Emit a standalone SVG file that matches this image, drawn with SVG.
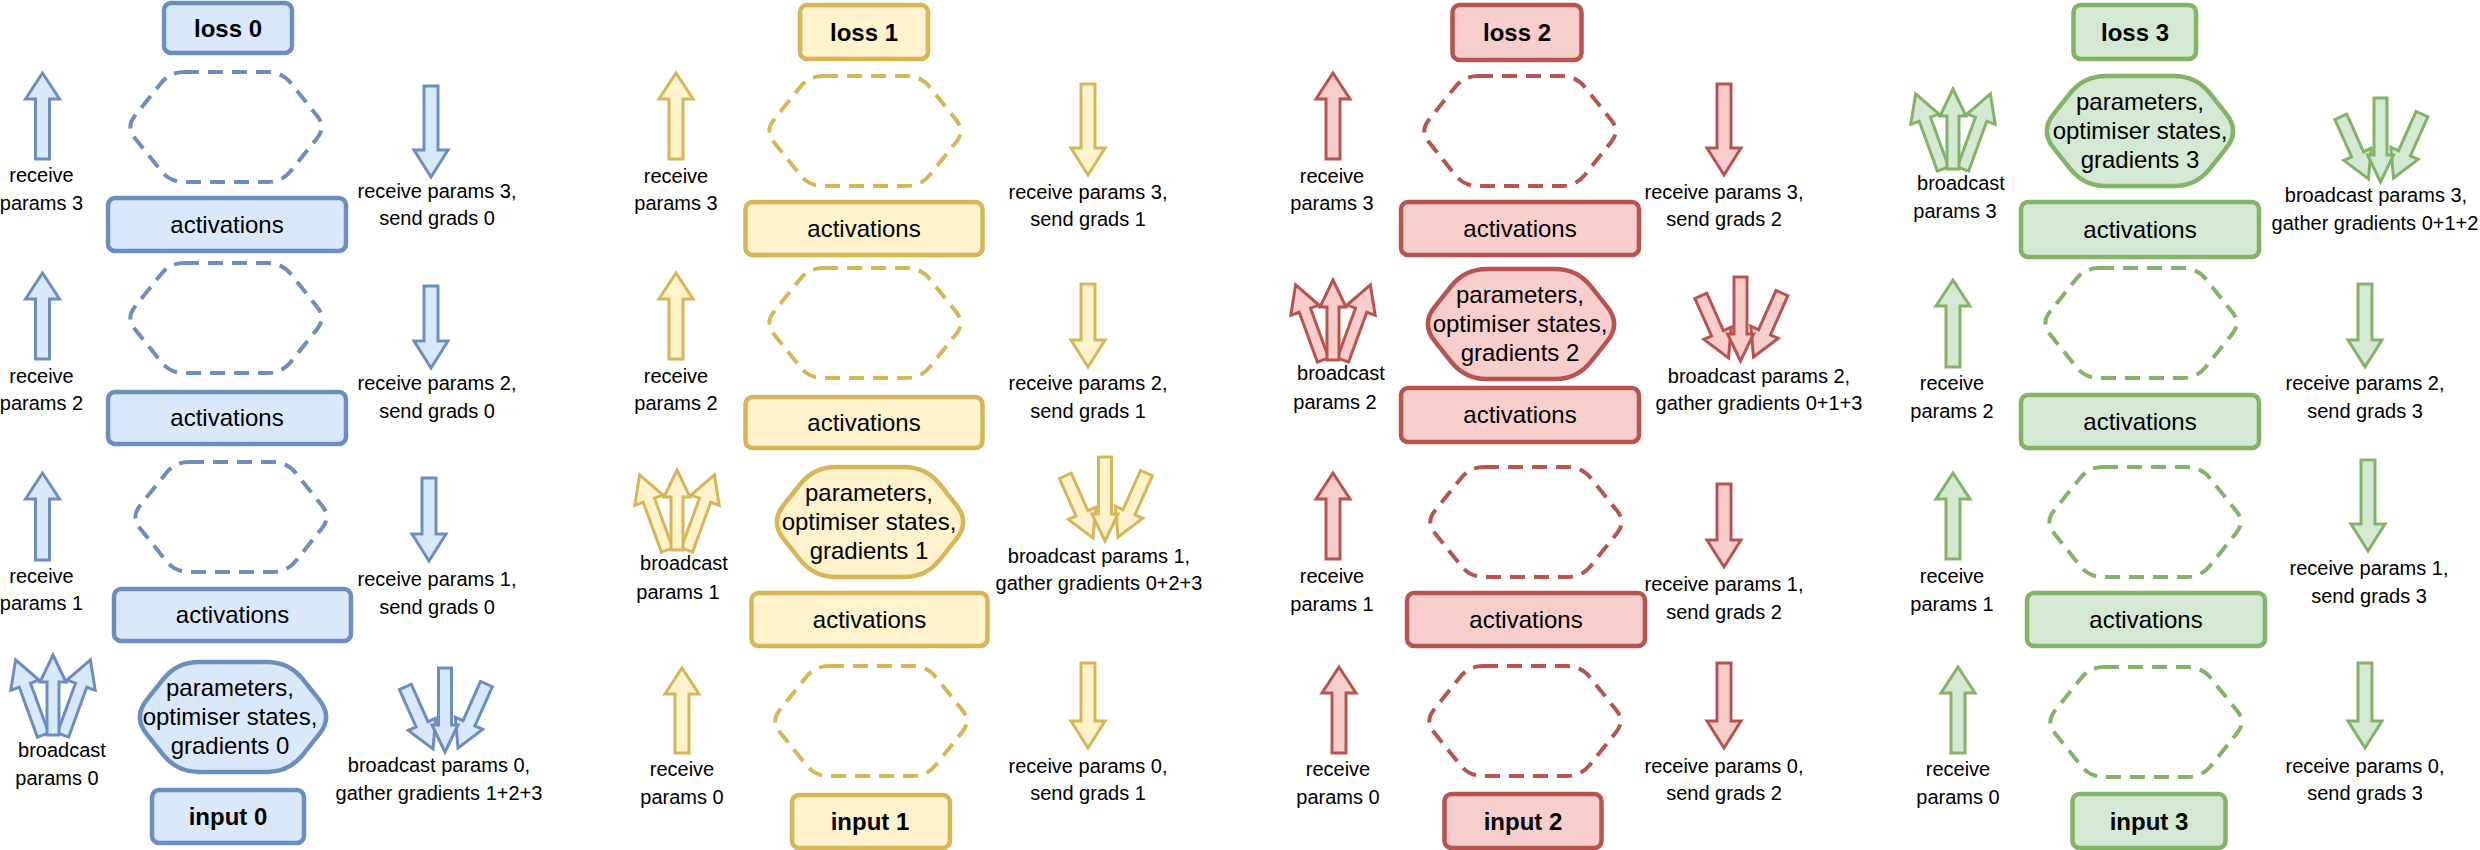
<svg xmlns="http://www.w3.org/2000/svg" xmlns:xlink="http://www.w3.org/1999/xlink" width="2480" height="850" viewBox="0 0 2480 850">
<style>
.b{fill:#dae8fc;stroke:#6c8ebf}
.y{fill:#fff2cc;stroke:#d6b656}
.r{fill:#f8cecc;stroke:#b85450}
.g{fill:#d5e8d4;stroke:#82b366}
.box{stroke-width:4.5}
.ar{stroke-width:3;stroke-linejoin:miter}
.dh{fill:none;stroke-width:4;stroke-dasharray:15 9}
.ph{stroke-width:4.5}
.t{font-family:"Liberation Sans",Arial,Helvetica,sans-serif;font-size:20px;text-anchor:middle;fill:#000;stroke:none}
.m{font-size:24px}
.bd{font-weight:bold}
</style>
<defs>
<path id="hexD" d="M58,0 L142,0 Q156,0 164.75,10.93 L191.25,44.07 Q200,55 191.25,65.93 L164.75,99.07 Q156,110 142,110 L58,110 Q44,110 35.25,99.07 L8.75,65.93 Q0,55 8.75,44.07 L35.25,10.93 Q44,0 58,0 Z"/>
<path id="hexP" d="M66,0 L134,0 Q156,0 169.75,17.18 L186.25,37.82 Q200,55 186.25,72.18 L169.75,92.82 Q156,110 134,110 L66,110 Q44,110 30.25,92.82 L13.75,72.18 Q0,55 13.75,37.82 L30.25,17.18 Q44,0 66,0 Z"/>
<g id="fanUp">
<polygon transform="translate(-10,80) rotate(-20)" points="0,-80 15,-53 6,-53 6,0 -6,0 -6,-53 -15,-53"/>
<polygon transform="translate(10,80) rotate(20)" points="0,-80 15,-53 6,-53 6,0 -6,0 -6,-53 -15,-53"/>
<polygon points="0,0 13,27 6,27 6,80 -6,80 -6,27 -13,27"/>
</g>
<g id="fanDown">
<polygon transform="translate(-12,-3) rotate(-24)" points="0,0 15,-27 6.5,-27 6.5,-68 -6.5,-68 -6.5,-27 -15,-27"/>
<polygon transform="translate(13,-4) rotate(24)" points="0,0 15,-27 6.5,-27 6.5,-70 -6.5,-70 -6.5,-27 -15,-27"/>
<polygon points="0,0 13,-27 6.5,-27 6.5,-84 -6.5,-84 -6.5,-27 -13,-27"/>
</g>
</defs>
<rect width="2480" height="850" fill="#ffffff"/>

<!-- ============ Column 0 (blue) ============ -->
<g id="col0">
<g id="loss0"><rect class="b box" x="164" y="3" width="128" height="50" rx="7"/><text class="t m bd" x="228" y="37">loss 0</text></g>
<g id="hex0_1"><use href="#hexD" x="126" y="72" class="dh b"/></g>
<g id="act0_1"><rect class="b box" x="108" y="198" width="238" height="53" rx="7"/><text class="t m" x="227" y="233">activations</text></g>
<g id="hex0_2"><use href="#hexD" x="126" y="263" class="dh b"/></g>
<g id="act0_2"><rect class="b box" x="108" y="392" width="238" height="52" rx="7"/><text class="t m" x="227" y="426">activations</text></g>
<g id="hex0_3"><use href="#hexD" x="131" y="462" class="dh b"/></g>
<g id="act0_3"><rect class="b box" x="114" y="589" width="237" height="52" rx="7"/><text class="t m" x="232.5" y="623">activations</text></g>
<g id="params0"><use href="#hexP" x="133" y="662" class="ph b"/><text class="t m" x="230" y="696">parameters,</text><text class="t m" x="230" y="725">optimiser states,</text><text class="t m" x="230" y="754">gradients 0</text></g>
<g id="input0"><rect class="b box" x="152" y="790" width="152" height="53" rx="7"/><text class="t m bd" x="228" y="825">input 0</text></g>

<g id="up0_3"><polygon class="b ar" points="42.5,73 59.5,99 49.5,99 49.5,159 35.5,159 35.5,99 25.5,99"/><text class="t" x="41.5" y="182">receive</text><text class="t" x="41.5" y="210">params 3</text></g>
<g id="up0_2"><polygon class="b ar" points="42.5,273 59.5,299 49.5,299 49.5,359 35.5,359 35.5,299 25.5,299"/><text class="t" x="41.5" y="383">receive</text><text class="t" x="41.5" y="410">params 2</text></g>
<g id="up0_1"><polygon class="b ar" points="42.5,473 59.5,499 49.5,499 49.5,560 35.5,560 35.5,499 25.5,499"/><text class="t" x="41.5" y="583">receive</text><text class="t" x="41.5" y="610">params 1</text></g>
<g id="bcast0"><use href="#fanUp" x="53" y="655" class="b ar"/><text class="t" x="62" y="757">broadcast</text><text class="t" x="57" y="785">params 0</text></g>

<g id="down0_3"><polygon class="b ar" points="424,86 438,86 438,150 448,150 431,177 414,150 424,150"/><text class="t" x="437" y="198">receive params 3,</text><text class="t" x="437" y="225">send grads 0</text></g>
<g id="down0_2"><polygon class="b ar" points="424,286 438,286 438,341 448,341 431,368 414,341 424,341"/><text class="t" x="437" y="390">receive params 2,</text><text class="t" x="437" y="418">send grads 0</text></g>
<g id="down0_1"><polygon class="b ar" points="422,478 436,478 436,534 446,534 429,561 412,534 422,534"/><text class="t" x="437" y="586">receive params 1,</text><text class="t" x="437" y="614">send grads 0</text></g>
<g id="gather0"><use href="#fanDown" x="445" y="752" class="b ar"/><text class="t" x="439" y="772">broadcast params 0,</text><text class="t" x="439" y="800">gather gradients 1+2+3</text></g>
</g>

<!-- ============ Column 1 (yellow) ============ -->
<g id="col1">
<g id="loss1"><rect class="y box" x="800" y="5" width="128" height="54" rx="7"/><text class="t m bd" x="864" y="41">loss 1</text></g>
<g id="hex1_1"><use href="#hexD" x="765" y="76" class="dh y"/></g>
<g id="act1_1"><rect class="y box" x="745.5" y="202" width="237" height="53" rx="7"/><text class="t m" x="864" y="237">activations</text></g>
<g id="hex1_2"><use href="#hexD" x="765" y="268" class="dh y"/></g>
<g id="act1_2"><rect class="y box" x="745.5" y="397" width="237" height="51" rx="7"/><text class="t m" x="864" y="431">activations</text></g>
<g id="params1"><use href="#hexP" x="770" y="467" class="ph y"/><text class="t m" x="869" y="501">parameters,</text><text class="t m" x="869" y="530">optimiser states,</text><text class="t m" x="869" y="559">gradients 1</text></g>
<g id="act1_3"><rect class="y box" x="751.5" y="593" width="236" height="53" rx="7"/><text class="t m" x="869.5" y="628">activations</text></g>
<g id="hex1_4"><use href="#hexD" x="771" y="666" class="dh y"/></g>
<g id="input1"><rect class="y box" x="792" y="795" width="158" height="53" rx="7"/><text class="t m bd" x="870" y="830">input 1</text></g>

<g id="up1_3"><polygon class="y ar" points="676,73 693,99 683,99 683,159 669,159 669,99 659,99"/><text class="t" x="676" y="183">receive</text><text class="t" x="676" y="210">params 3</text></g>
<g id="up1_2"><polygon class="y ar" points="676,273 693,299 683,299 683,359 669,359 669,299 659,299"/><text class="t" x="676" y="383">receive</text><text class="t" x="676" y="410">params 2</text></g>
<g id="bcast1"><use href="#fanUp" x="677" y="470" class="y ar"/><text class="t" x="684" y="570">broadcast</text><text class="t" x="678" y="599">params 1</text></g>
<g id="up1_0"><polygon class="y ar" points="682,668 699,694 689,694 689,753 675,753 675,694 665,694"/><text class="t" x="682" y="776">receive</text><text class="t" x="682" y="804">params 0</text></g>

<g id="down1_3"><polygon class="y ar" points="1081,84 1095,84 1095,148 1105,148 1088,175 1071,148 1081,148"/><text class="t" x="1088" y="199">receive params 3,</text><text class="t" x="1088" y="226">send grads 1</text></g>
<g id="down1_2"><polygon class="y ar" points="1081,284 1095,284 1095,340 1105,340 1088,367 1071,340 1081,340"/><text class="t" x="1088" y="390">receive params 2,</text><text class="t" x="1088" y="418">send grads 1</text></g>
<g id="gather1"><use href="#fanDown" x="1105" y="541" class="y ar"/><text class="t" x="1099" y="563">broadcast params 1,</text><text class="t" x="1099" y="590">gather gradients 0+2+3</text></g>
<g id="down1_0"><polygon class="y ar" points="1081,663 1095,663 1095,721 1105,721 1088,748 1071,721 1081,721"/><text class="t" x="1088" y="773">receive params 0,</text><text class="t" x="1088" y="800">send grads 1</text></g>
</g>

<!-- ============ Column 2 (red) ============ -->
<g id="col2">
<g id="loss2"><rect class="r box" x="1452.5" y="5" width="129" height="55" rx="7"/><text class="t m bd" x="1517" y="41">loss 2</text></g>
<g id="hex2_1"><use href="#hexD" x="1420" y="76" class="dh r"/></g>
<g id="act2_1"><rect class="r box" x="1401" y="202" width="238" height="53" rx="7"/><text class="t m" x="1520" y="237">activations</text></g>
<g id="params2"><use href="#hexP" x="1421" y="269" class="ph r"/><text class="t m" x="1520" y="303">parameters,</text><text class="t m" x="1520" y="332">optimiser states,</text><text class="t m" x="1520" y="361">gradients 2</text></g>
<g id="act2_2"><rect class="r box" x="1401" y="388" width="238" height="54" rx="7"/><text class="t m" x="1520" y="423">activations</text></g>
<g id="hex2_3"><use href="#hexD" x="1426" y="467" class="dh r"/></g>
<g id="act2_3"><rect class="r box" x="1407" y="593" width="238" height="53" rx="7"/><text class="t m" x="1526" y="628">activations</text></g>
<g id="hex2_4"><use href="#hexD" x="1425" y="666" class="dh r"/></g>
<g id="input2"><rect class="r box" x="1444.5" y="794" width="157" height="54" rx="7"/><text class="t m bd" x="1523" y="830">input 2</text></g>

<g id="up2_3"><polygon class="r ar" points="1333,73 1350,99 1340,99 1340,159 1326,159 1326,99 1316,99"/><text class="t" x="1332" y="183">receive</text><text class="t" x="1332" y="210">params 3</text></g>
<g id="bcast2"><use href="#fanUp" x="1333" y="280" class="r ar"/><text class="t" x="1341" y="380">broadcast</text><text class="t" x="1335" y="409">params 2</text></g>
<g id="up2_1"><polygon class="r ar" points="1333,473 1350,499 1340,499 1340,559 1326,559 1326,499 1316,499"/><text class="t" x="1332" y="583">receive</text><text class="t" x="1332" y="611">params 1</text></g>
<g id="up2_0"><polygon class="r ar" points="1339,667 1356,693 1346,693 1346,753 1332,753 1332,693 1322,693"/><text class="t" x="1338" y="776">receive</text><text class="t" x="1338" y="804">params 0</text></g>

<g id="down2_3"><polygon class="r ar" points="1717,84 1731,84 1731,148 1741,148 1724,175 1707,148 1717,148"/><text class="t" x="1724" y="199">receive params 3,</text><text class="t" x="1724" y="226">send grads 2</text></g>
<g id="gather2"><use href="#fanDown" x="1740.5" y="361" class="r ar"/><text class="t" x="1759" y="383">broadcast params 2,</text><text class="t" x="1759" y="410">gather gradients 0+1+3</text></g>
<g id="down2_1"><polygon class="r ar" points="1717,484 1731,484 1731,540 1741,540 1724,567 1707,540 1717,540"/><text class="t" x="1724" y="591">receive params 1,</text><text class="t" x="1724" y="619">send grads 2</text></g>
<g id="down2_0"><polygon class="r ar" points="1717,663 1731,663 1731,721 1741,721 1724,748 1707,721 1717,721"/><text class="t" x="1724" y="773">receive params 0,</text><text class="t" x="1724" y="800">send grads 2</text></g>
</g>

<!-- ============ Column 3 (green) ============ -->
<g id="col3">
<g id="loss3"><rect class="g box" x="2073.5" y="5" width="122.5" height="54" rx="7"/><text class="t m bd" x="2135" y="41">loss 3</text></g>
<g id="params3"><use href="#hexP" x="2040" y="76" class="ph g"/><text class="t m" x="2140" y="110">parameters,</text><text class="t m" x="2140" y="139">optimiser states,</text><text class="t m" x="2140" y="168">gradients 3</text></g>
<g id="act3_1"><rect class="g box" x="2021" y="202" width="238" height="55" rx="7"/><text class="t m" x="2140" y="238">activations</text></g>
<g id="hex3_2"><use href="#hexD" x="2041" y="268" class="dh g"/></g>
<g id="act3_2"><rect class="g box" x="2021" y="395" width="238" height="53" rx="7"/><text class="t m" x="2140" y="430">activations</text></g>
<g id="hex3_3"><use href="#hexD" x="2045" y="467" class="dh g"/></g>
<g id="act3_3"><rect class="g box" x="2027" y="593" width="238" height="53" rx="7"/><text class="t m" x="2146" y="628">activations</text></g>
<g id="hex3_4"><use href="#hexD" x="2046" y="667" class="dh g"/></g>
<g id="input3"><rect class="g box" x="2072.5" y="794" width="153" height="54" rx="7"/><text class="t m bd" x="2149" y="830">input 3</text></g>

<g id="bcast3"><use href="#fanUp" x="1953" y="89" class="g ar"/><text class="t" x="1961" y="190">broadcast</text><text class="t" x="1955" y="218">params 3</text></g>
<g id="up3_2"><polygon class="g ar" points="1953,280 1970,306 1960,306 1960,367 1946,367 1946,306 1936,306"/><text class="t" x="1952" y="390">receive</text><text class="t" x="1952" y="418">params 2</text></g>
<g id="up3_1"><polygon class="g ar" points="1953,473 1970,499 1960,499 1960,559 1946,559 1946,499 1936,499"/><text class="t" x="1952" y="583">receive</text><text class="t" x="1952" y="611">params 1</text></g>
<g id="up3_0"><polygon class="g ar" points="1958,667 1975,693 1965,693 1965,753 1951,753 1951,693 1941,693"/><text class="t" x="1958" y="776">receive</text><text class="t" x="1958" y="804">params 0</text></g>

<g id="gather3"><use href="#fanDown" x="2380.5" y="182" class="g ar"/><text class="t" x="2376" y="202">broadcast params 3,</text><text class="t" x="2375" y="230">gather gradients 0+1+2</text></g>
<g id="down3_2"><polygon class="g ar" points="2358,284 2372,284 2372,340 2382,340 2365,367 2348,340 2358,340"/><text class="t" x="2365" y="390">receive params 2,</text><text class="t" x="2365" y="418">send grads 3</text></g>
<g id="down3_1"><polygon class="g ar" points="2361,460 2375,460 2375,524 2385,524 2368,551 2351,524 2361,524"/><text class="t" x="2369" y="575">receive params 1,</text><text class="t" x="2369" y="603">send grads 3</text></g>
<g id="down3_0"><polygon class="g ar" points="2358,663 2372,663 2372,721 2382,721 2365,748 2348,721 2358,721"/><text class="t" x="2365" y="773">receive params 0,</text><text class="t" x="2365" y="800">send grads 3</text></g>
</g>

<g id="connectors"></g>
</svg>
